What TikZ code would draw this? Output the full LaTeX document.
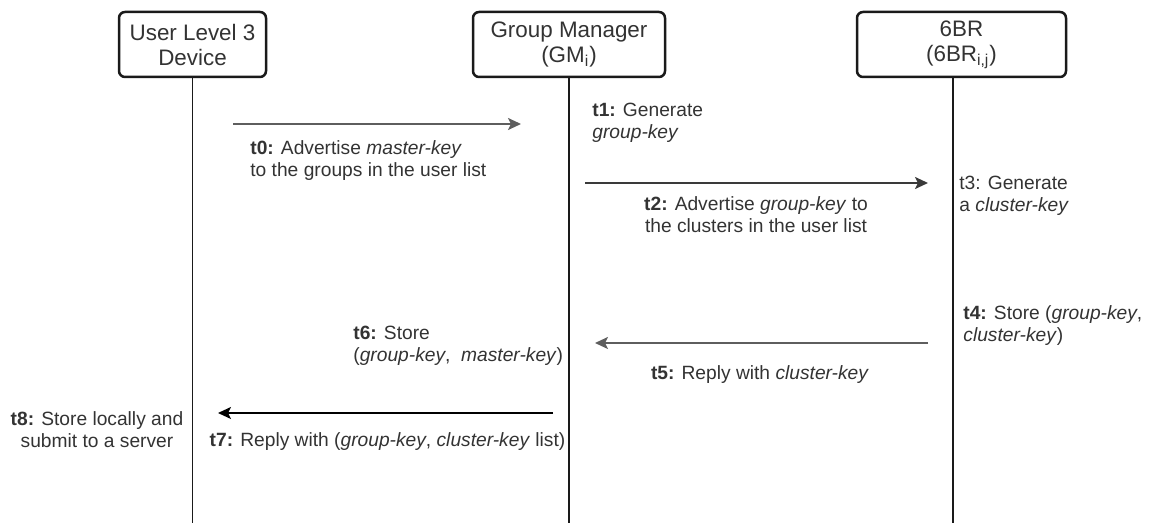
\documentclass[tikz,border=0pt]{standalone}
\usepackage{fontspec}
\setmainfont{Liberation Sans}
\usetikzlibrary{arrows.meta,positioning}
\definecolor{Ink}{HTML}{1A1A1A}
\definecolor{TextGray}{HTML}{333333}
\definecolor{WireGray}{HTML}{5E5E5E}
\definecolor{WireDark}{HTML}{3A3A3A}
\tikzset{
  party/.style={
    rounded corners=3pt, draw=Ink, line width=1.25pt, fill=white, text=TextGray,
    minimum height=32.5pt, inner sep=0pt, align=center,
    font=\fontsize{11.2}{12.5}\selectfont
  },
  lifeline/.style={draw=Ink, line width=0.85pt},
  note/.style={text=TextGray, inner sep=0pt, font=\fontsize{9.6}{11}\selectfont},
  msg/.style={-{Stealth[length=6.5pt,width=6pt,inset=1.5pt]}, line width=1.1pt, draw=WireGray},
  darkmsg/.style={msg, draw=WireDark},
  replymsg/.style={msg, line width=0.9pt, draw=black}
}
\newcommand{\tk}[1]{\textbf{#1:}}

\begin{document}
\begin{tikzpicture}[x=0.5pt,y=-0.5pt]
        \useasboundingbox (0,0) rectangle (1151,523);
        % parties
        \node[party,minimum width=73.5pt] (user) at (192.5,44.5) {User Level 3\\Device};
        \node[party,minimum width=96pt] (gm) at (569,44.5) {Group Manager\\(GM\textsubscript{i})};
        \node[party,minimum width=104.5pt] (br) at (961.5,44.5) {6BR\\(6BR\textsubscript{i,j})};
        % lifelines
        \coordinate (userEnd) at (192.5,523);
        \coordinate (gmEnd) at (569,523);
        \coordinate (brTop) at (953,77);
        \coordinate (brEnd) at (953,523);
        \draw[lifeline] (user.south) -- (userEnd);
        \draw[lifeline] (gm.south) -- (gmEnd);
        \draw[lifeline] (brTop) -- (brEnd);
        % messages
        \coordinate (m0a) at (233,124);
        \coordinate (m0b) at (521,124);
        \coordinate (m2a) at (585,183);
        \coordinate (m2b) at (928,183);
        \coordinate (m5a) at (928,343);
        \coordinate (m5b) at (595,343);
        \coordinate (m7a) at (553,413);
        \coordinate (m7b) at (218,413);
        \draw[msg] (m0a) -- (m0b);
        \draw[darkmsg] (m2a) -- (m2b);
        \draw[msg] (m5a) -- (m5b);
        \draw[replymsg] (m7a) -- (m7b);
        % steps
        \node[note,anchor=west,align=left] (t0) at (250,160.5) {\tk{t0} Advertise \textit{master-key}\\to the groups in the user list};
        \node[note,anchor=west,align=left] (t1) at (592,122.5) {\tk{t1} Generate\\\textit{group-key}};
        \node[note,align=center] (t2) at (756,215) {\tk{t2} Advertise \textit{group-key} to\\the clusters in the user list};
        \node[note,anchor=west,align=left] (t3) at (959,196) {t3: Generate\\a \textit{cluster-key}};
        \node[note,anchor=west,align=left] (t4) at (963,326) {\tk{t4} Store (\textit{group-key},\\\textit{cluster-key})};
        \node[note,align=center] (t5) at (760,375) {\tk{t5} Reply with \textit{cluster-key}};
        \node[note,anchor=west,align=left] (t6) at (353,346) {\tk{t6} Store\\(\textit{group-key}, \ \textit{master-key})};
        \node[note,align=center] (t7) at (387.5,442) {\tk{t7} Reply with (\textit{group-key}, \textit{cluster-key} list)};
        \node[note,align=center] (t8) at (97,430) {\tk{t8} Store locally and\\submit to a server};
\end{tikzpicture}
\end{document}
